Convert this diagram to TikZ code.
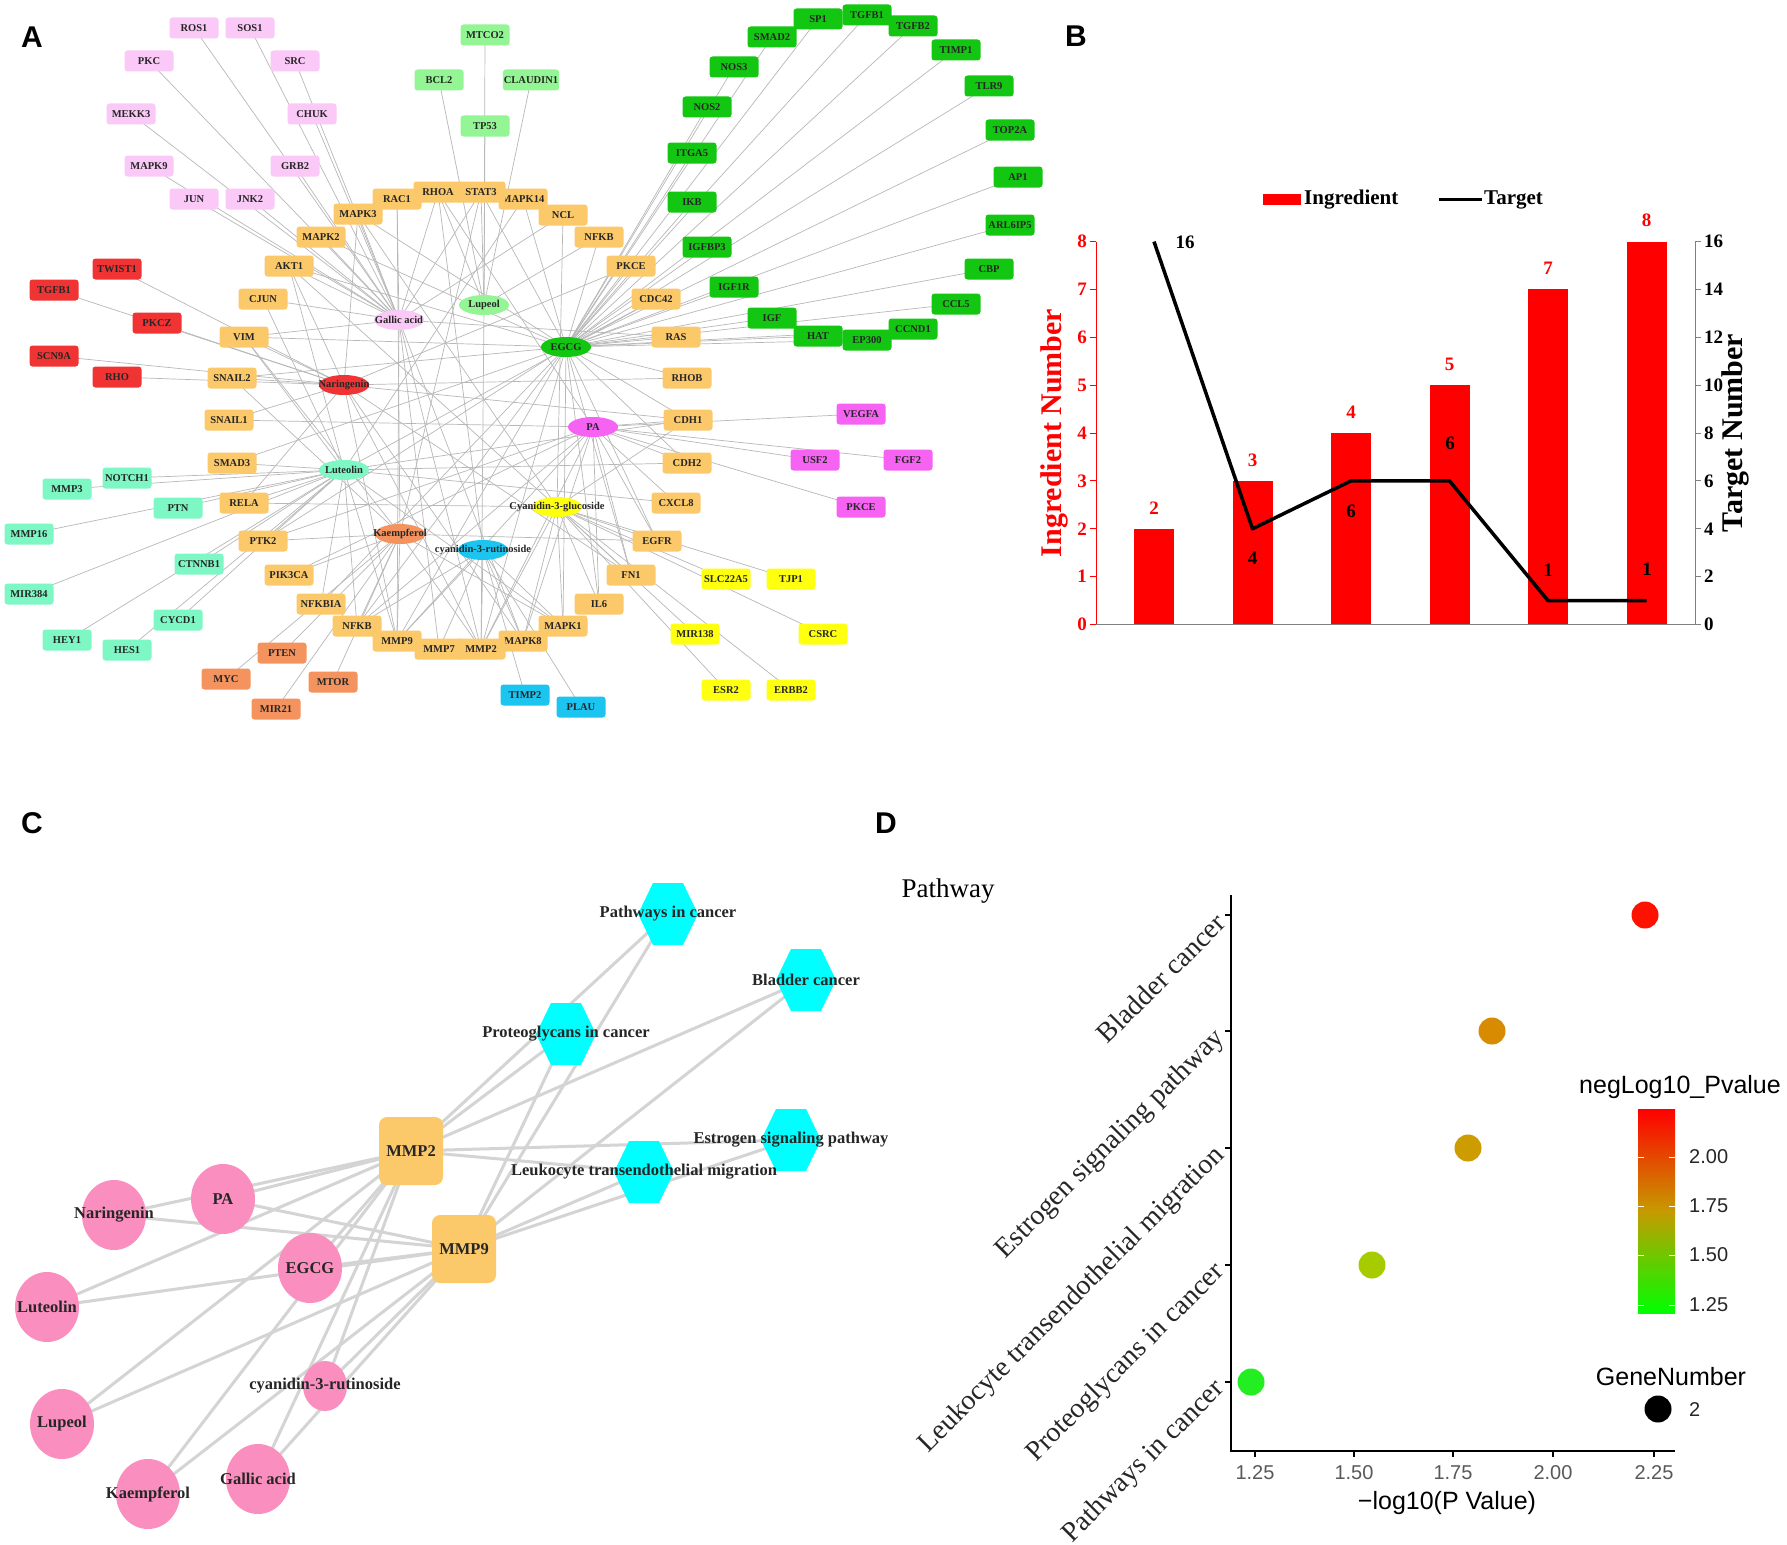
\documentclass[tikz,border=0pt]{standalone}
\usepackage{fontspec}
\setmainfont{Liberation Serif}
\newfontfamily\arialfont{Liberation Sans}
\usepackage{xcolor}
\usepackage{tikz}
\usetikzlibrary{shapes.geometric,positioning}
\pgfdeclarelayer{bg}
\pgfsetlayers{bg,main}

\definecolor{pinkc}{HTML}{FBC9F7}
\definecolor{redc}{HTML}{F03434}
\definecolor{orangec}{HTML}{FCC96A}
\definecolor{lgreenc}{HTML}{93F593}
\definecolor{greenc}{HTML}{12C612}
\definecolor{aquac}{HTML}{7DF8C4}
\definecolor{salmonc}{HTML}{F5935F}
\definecolor{bluec}{HTML}{1CC4F0}
\definecolor{magc}{HTML}{F662F2}
\definecolor{yellowc}{HTML}{FFFF10}
\definecolor{herbpink}{HTML}{FA8EBE}
\definecolor{hexcyan}{HTML}{00FFFF}
\definecolor{barred}{HTML}{FF0000}
\definecolor{cbmid}{HTML}{C69A00}
\definecolor{cbtop}{HTML}{FF0000}
\definecolor{cbbot}{HTML}{00FF00}
\definecolor{dotB}{HTML}{FF1100}
\definecolor{dotE}{HTML}{D88A00}
\definecolor{dotL}{HTML}{CC9C00}
\definecolor{dotP}{HTML}{A6CC00}
\definecolor{dotW}{HTML}{22EE22}

\newcommand{\genefnt}{\fontsize{10.5pt}{12pt}\selectfont\bfseries}
\newcommand{\panelfnt}{\arialfont\fontsize{30pt}{32pt}\selectfont\bfseries}
\newcommand{\barnumfnt}{\fontsize{19pt}{21pt}\selectfont\bfseries}
\newcommand{\legendfnt}{\fontsize{21pt}{23pt}\selectfont\bfseries}
\newcommand{\axistitlefnt}{\fontsize{30pt}{32pt}\selectfont\bfseries}
\newcommand{\herbfnt}{\fontsize{16.5pt}{18pt}\selectfont\bfseries}
\newcommand{\pathwayfnt}{\fontsize{27pt}{29pt}\selectfont}
\newcommand{\catfnt}{\fontsize{28pt}{30pt}\selectfont}
\newcommand{\dtickfnt}{\arialfont\fontsize{20pt}{22pt}\selectfont}
\newcommand{\dtitlefnt}{\arialfont\fontsize{25pt}{27pt}\selectfont}

\begin{document}
\begin{tikzpicture}[x=1pt, y=-1pt,
    gene/.style={rectangle, rounded corners=3pt, minimum width=49pt, minimum height=21pt, inner xsep=1pt, inner ysep=0pt, font=\genefnt, text=black!85},
    ingr/.style={ellipse, minimum width=50pt, minimum height=20pt, inner sep=0pt},
    ilab/.style={font=\genefnt, text=black!85},
    link/.style={draw=black!28, line width=0.7pt},
    herb/.style={ellipse, fill=herbpink, minimum width=64pt, minimum height=70pt, inner sep=0pt},
    clab/.style={font=\herbfnt, text=black!85},
    mmpbox/.style={rectangle, rounded corners=8pt, fill=orangec, minimum width=64pt, minimum height=68pt, font=\herbfnt, text=black!85},
    hexnode/.style={rectangle, minimum width=60pt, minimum height=62pt, inner sep=0pt,
        path picture={\fill[hexcyan] (path picture bounding box.west) -- ([xshift=-15pt]path picture bounding box.north)
            -- ([xshift=15pt]path picture bounding box.north) -- (path picture bounding box.east)
            -- ([xshift=15pt]path picture bounding box.south) -- ([xshift=-15pt]path picture bounding box.south) -- cycle;}},
    clink/.style={draw=black!17, line width=3pt},
    panel/.style={font=\panelfnt}
]
    \begin{pgfonlayer}{bg}
        \fill[white] (0,0) rectangle (1787,1544);
    \end{pgfonlayer}
    \useasboundingbox (0,0) rectangle (1787,1544);

    % ---------------- Panel A ----------------
    \node[panel] (labA) at (32,37) {A};

    % Ingredients
    \node[ingr, fill=redc, label={[ilab]center:Naringenin}] (nar) at (344,385) {};
    \node[ingr, fill=pinkc, label={[ilab]center:Gallic acid}] (gal) at (399,320) {};
    \node[ingr, fill=lgreenc, label={[ilab]center:Lupeol}] (lup) at (484,305) {};
    \node[ingr, fill=greenc, label={[ilab]center:EGCG}] (egc) at (566,347) {};
    \node[ingr, fill=magc, label={[ilab]center:PA}] (pa) at (593,427) {};
    \node[ingr, fill=aquac, label={[ilab]center:Luteolin}] (lut) at (344,470) {};
    \node[ingr, fill=yellowc, label={[ilab]center:Cyanidin-3-glucoside}] (cyg) at (557,507) {};
    \node[ingr, fill=salmonc, label={[ilab]center:Kaempferol}] (kae) at (400,534) {};
    \node[ingr, fill=bluec, label={[ilab]center:cyanidin-3-rutinoside}] (cyr) at (483,550) {};

    % Targets
    \foreach \n/\x/\y/\t in {ros1/194/28/ROS1, sos1/250/28/SOS1, pkc/149/61/PKC, src/295/61/SRC, mekk3/131/114/MEKK3,
        chuk/312/114/CHUK, mapk9/149/166/MAPK9, grb2/295/166/GRB2, jun/194/199/JUN, jnk2/250/199/JNK2}
        \node[gene, fill=pinkc] (\n) at (\x,\y) {\t};
    \foreach \n/\x/\y/\t in {twist1/117/269/TWIST1, tgfb1r/54/290/TGFB1, pkcz/157/323/PKCZ, scn9a/54/356/SCN9A, rho/117/377/RHO}
        \node[gene, fill=redc] (\n) at (\x,\y) {\t};
    \foreach \n/\x/\y/\t in {mtco2/485/35/MTCO2, bcl2/439/80/BCL2, claudin1/531/80/CLAUDIN1, tp53/485/126/TP53}
        \node[gene, fill=lgreenc] (\n) at (\x,\y) {\t};
    \foreach \n/\x/\y/\t in {smad2/772/37/SMAD2, sp1/818/19/SP1, tgfb1g/867/15/TGFB1, tgfb2/913/26/TGFB2, timp1/956/50/TIMP1,
        tlr9/989/86/TLR9, top2a/1010/130/TOP2A, ap1/1018/177/AP1, arl6ip5/1010/225/ARL6IP5, cbp/989/269/CBP,
        ccl5/956/304/CCL5, ccnd1/913/329/CCND1, ep300/867/340/EP300, hat/818/336/HAT, igf/772/318/IGF,
        igf1r/734/287/IGF1R, igfbp3/707/247/IGFBP3, ikb/692/202/IKB, itga5/692/153/ITGA5, nos2/707/107/NOS2, nos3/734/67/NOS3}
        \node[gene, fill=greenc] (\n) at (\x,\y) {\t};
    \foreach \n/\x/\y/\t in {mapk3/358/214/MAPK3, rac1/397/199/RAC1, rhoa/438/192/RHOA, mapk14/523/199/MAPK14, stat3/481/192/STAT3,
        ncl/563/215/NCL, nfkbu/599/237/NFKB, pkceo/631/266/PKCE, cdc42/656/299/CDC42, ras/676/337/RAS, rhob/687/378/RHOB,
        cdh1/688/420/CDH1, cdh2/687/463/CDH2, cxcl8/676/503/CXCL8, egfr/657/541/EGFR, fn1/631/575/FN1, il6/599/604/IL6,
        mapk1/563/626/MAPK1, mapk8/523/641/MAPK8, mmp2/481/649/MMP2, mmp7/439/649/MMP7, mmp9/397/641/MMP9,
        nfkbl/357/626/NFKB, nfkbia/321/604/NFKBIA, pik3ca/289/575/PIK3CA, ptk2/263/541/PTK2, rela/244/503/RELA,
        smad3/232/463/SMAD3, snail1/229/420/SNAIL1, snail2/232/378/SNAIL2, vim/244/337/VIM, cjun/263/299/CJUN,
        akt1/289/266/AKT1, mapk2/321/237/MAPK2}
        \node[gene, fill=orangec] (\n) at (\x,\y) {\t};
    \foreach \n/\x/\y/\t in {notch1/127/478/NOTCH1, mmp3/67/489/MMP3, ptn/178/508/PTN, mmp16/29/534/MMP16, ctnnb1/199/564/CTNNB1,
        mir384/29/594/MIR384, cycd1/178/620/CYCD1, hey1/67/640/HEY1, hes1/127/650/HES1}
        \node[gene, fill=aquac] (\n) at (\x,\y) {\t};
    \foreach \n/\x/\y/\t in {pten/282/653/PTEN, myc/226/679/MYC, mtor/333/682/MTOR, mir21/276/709/MIR21}
        \node[gene, fill=salmonc] (\n) at (\x,\y) {\t};
    \foreach \n/\x/\y/\t in {timp2/525/695/TIMP2, plau/581/707/PLAU}
        \node[gene, fill=bluec] (\n) at (\x,\y) {\t};
    \foreach \n/\x/\y/\t in {vegfa/861/414/VEGFA, usf2/815/460/USF2, fgf2/908/460/FGF2, pkcem/861/507/PKCE}
        \node[gene, fill=magc] (\n) at (\x,\y) {\t};
    \foreach \n/\x/\y/\t in {slc22a5/726/579/SLC22A5, tjp1/791/579/TJP1, mir138/695/634/MIR138, csrc/823/634/CSRC,
        esr2/726/690/ESR2, erbb2/791/690/ERBB2}
        \node[gene, fill=yellowc] (\n) at (\x,\y) {\t};

    % Edges
    \begin{pgfonlayer}{bg}
        \foreach \s/\l in {gal/{ros1,sos1,pkc,src,mekk3,chuk,mapk9,grb2,jun,jnk2},
            nar/{twist1,tgfb1r,pkcz,scn9a,rho}, lup/{mtco2,bcl2,claudin1,tp53},
            egc/{smad2,sp1,tgfb1g,tgfb2,timp1,tlr9,top2a,ap1,arl6ip5,cbp,ccl5,ccnd1,ep300,hat,igf,igf1r,igfbp3,ikb,itga5,nos2,nos3},
            pa/{vegfa,usf2,fgf2,pkcem}, lut/{notch1,mmp3,ptn,mmp16,ctnnb1,mir384,cycd1,hey1,hes1},
            kae/{pten,myc,mtor,mir21}, cyr/{timp2,plau}, cyg/{slc22a5,tjp1,mir138,csrc,esr2,erbb2}}
            \foreach \t in \l
                \draw[link] (\s.center) -- (\t.center);
        \foreach \t/\l in {rac1/{gal,kae}, mapk14/{lut,egc}, ncl/{gal,cyg}, nfkbu/{lup,egc}, pkceo/{egc,nar},
            cdc42/{egc,lut}, ras/{egc,gal}, rhob/{egc,nar}, cxcl8/{pa,lut}, mmp7/{cyr,gal}, nfkbia/{lut,egc},
            pik3ca/{kae,pa}, smad3/{lut,egc}, snail1/{nar,pa}, cjun/{gal,lut}, mapk2/{gal,egc},
            cdh2/{pa,lut,egc}, snail2/{nar,egc,kae}, il6/{pa,egc,cyg}, rela/{lut,nar,cyg},
            stat3/{gal,lup,egc,kae}, rhoa/{gal,lup,cyr,pa}, mapk3/{gal,nar,egc,cyg}, egfr/{pa,egc,cyg,kae},
            fn1/{pa,egc,cyg,nar}, ptk2/{lut,kae,egc,pa},
            mapk1/{cyr,cyg,egc,lut,kae}, mapk8/{cyr,cyg,pa,gal,nar}, nfkbl/{kae,lut,egc,pa,cyr},
            cdh1/{pa,nar,egc,lut,cyg}, vim/{nar,gal,egc,lut,kae}, akt1/{gal,nar,egc,lut,cyg},
            mmp9/{kae,lut,nar,cyr,egc,gal,pa}, mmp2/{cyr,kae,lup,egc,pa,gal,nar,cyg}}
            \foreach \s in \l
                \draw[link] (\t.center) -- (\s.center);
    \end{pgfonlayer}

    % ---------------- Panel B ----------------
    \node[panel] (labB) at (1076,36) {B};
    % Legend
    \fill[barred] (1263,194) rectangle (1301,205);
    \node[anchor=west, font=\legendfnt, inner sep=1pt] (legI) at (1303,199.5) {Ingredient};
    \draw[line width=3.5pt] (1439,199.5) -- (1482,199.5);
    \node[anchor=west, font=\legendfnt, inner sep=1pt] (legT) at (1483,199.5) {Target};
    % Bars
    \foreach \i/\v in {0/2,1/3,2/4,3/5,4/7,5/8} {
        \fill[barred] ({1134+98.5*\i},624.5) rectangle ({1174+98.5*\i},{624.5-47.86*\v});
        \node[font=\barnumfnt, text=barred] (bn\i) at ({1154+98.5*\i},{624.5-47.86*\v-21}) {\v};
    }
    % Axes
    \draw[barred, line width=1pt] (1096,241.6) -- (1096,624.5);
    \draw[black!50, line width=1pt] (1096,624.5) -- (1695,624.5);
    \draw[black!50, line width=1pt] (1695,241.6) -- (1695,624.5);
    \foreach \v in {0,...,8} {
        \draw[barred, line width=1pt] (1090,{624.5-47.86*\v}) -- (1096,{624.5-47.86*\v});
        \node[anchor=east, font=\barnumfnt, text=barred, inner sep=1pt] (lt\v) at (1088,{624.5-47.86*\v}) {\v};
    }
    \foreach \v in {0,2,...,16} {
        \draw[black!50, line width=1pt] (1695,{624.5-23.93*\v}) -- (1701,{624.5-23.93*\v});
        \node[anchor=west, font=\barnumfnt, inner sep=1pt] (rt\v) at (1703,{624.5-23.93*\v}) {\v};
    }
    % Target line
    \draw[line width=3.5pt, line join=round] (1154,241.6) -- (1252.5,528.8) -- (1351,480.9) -- (1449.5,480.9)
        -- (1548,600.6) -- (1646.5,600.6);
    \foreach \n/\x/\y/\t in {tl1/1185/242/16, tl2/1252.5/558/4, tl3/1351/511/6, tl4/1450/443/6, tl5/1548/570/1, tl6/1647/569/1}
        \node[font=\barnumfnt] (\n) at (\x,\y) {\t};
    \node[rotate=90, font=\axistitlefnt, text=barred] (ytl) at (1054,433) {Ingredient Number};
    \node[rotate=90, font=\axistitlefnt] (ytr) at (1735,433) {Target Number};

    % ---------------- Panel C ----------------
    \node[panel] (labC) at (32,823) {C};
    \node[herb, label={[clab]center:Naringenin}] (cnar) at (114,1215) {};
    \node[herb, label={[clab]center:PA}] (cpa) at (223,1199) {};
    \node[herb, label={[clab]center:EGCG}] (cegc) at (310,1268) {};
    \node[herb, label={[clab]center:Luteolin}] (clut) at (47,1307) {};
    \node[herb, label={[clab]center:Lupeol}] (clup) at (62,1424) {};
    \node[herb, label={[clab]center:Kaempferol}] (ckae) at (148,1494) {};
    \node[herb, label={[clab]center:Gallic acid}] (cgal) at (258,1479) {};
    \node[herb, minimum width=44pt, minimum height=50pt, label={[clab]center:cyanidin-3-rutinoside}] (ccyr) at (325,1386) {};
    \node[mmpbox] (cmmp2) at (411,1151) {MMP2};
    \node[mmpbox] (cmmp9) at (464,1249) {MMP9};
    \node[hexnode, label={[clab]center:Pathways in cancer}] (hpath) at (668,914) {};
    \node[hexnode, label={[clab]center:Bladder cancer}] (hblad) at (806,980) {};
    \node[hexnode, label={[clab]center:Proteoglycans in cancer}] (hprot) at (566,1034) {};
    \node[hexnode, label={[clab]center:Estrogen signaling pathway}] (hestr) at (791,1140) {};
    \node[hexnode, label={[clab]center:Leukocyte transendothelial migration}] (hleuk) at (644,1172) {};
    \begin{pgfonlayer}{bg}
        \foreach \m in {cmmp2,cmmp9} {
            \foreach \s in {cnar,cpa,cegc,clut,clup,ckae,cgal,ccyr}
                \draw[clink] (\m.center) -- (\s.center);
            \foreach \h in {hpath,hblad,hprot,hestr,hleuk}
                \draw[clink] (\m.center) -- (\h.center);
        }
    \end{pgfonlayer}

    % ---------------- Panel D ----------------
    \node[panel] (labD) at (886,823) {D};
    \node[font=\pathwayfnt] (ptitle) at (948,891) {Pathway};
    \draw[line width=1.3pt] (1231,895) -- (1231,1451) -- (1675,1451);
    \foreach \n/\y/\t in {c1/915/Bladder cancer, c2/1031/Estrogen signaling pathway, c3/1148/Leukocyte transendothelial migration,
        c4/1265/Proteoglycans in cancer, c5/1382/Pathways in cancer} {
        \draw[line width=1.3pt] (1225,\y) -- (1231,\y);
        \node[rotate=45, anchor=east, font=\catfnt, text=black!85, inner sep=2pt] (\n) at (1222,{\y+2}) {\t};
    }
    \foreach \n/\x/\t in {x1/1255/1.25, x2/1354/1.50, x3/1453/1.75, x4/1553/2.00, x5/1654/2.25} {
        \draw[line width=1.3pt] (\x,1451) -- (\x,1457);
        \node[font=\dtickfnt, text=black!65] (\n) at (\x,1473) {\t};
    }
    \node[font=\dtitlefnt] (xtitle) at (1447,1503) {−log10(P Value)};
    % Points
    \fill[dotB] (1645,915) circle (13.5);
    \fill[dotE] (1492,1031) circle (13.5);
    \fill[dotL] (1468,1148) circle (13.5);
    \fill[dotP] (1372,1265) circle (13.5);
    \fill[dotW] (1251,1382) circle (13.5);
    % Legend
    \node[font=\dtitlefnt] (cbtitle) at (1680,1087) {negLog10\_Pvalue};
    \shade[top color=cbtop, bottom color=cbmid] (1638,1109) rectangle (1675,1211);
    \shade[top color=cbmid, bottom color=cbbot] (1638,1211) rectangle (1675,1313);
    \foreach \n/\y/\t in {k1/1157/2.00, k2/1206/1.75, k3/1255/1.50, k4/1305/1.25} {
        \draw[white, line width=1pt] (1638,\y) -- (1644,\y);
        \draw[white, line width=1pt] (1669,\y) -- (1675,\y);
        \node[anchor=west, font=\dtickfnt, text=black!85, inner sep=1pt] (\n) at (1688,\y) {\t};
    }
    \node[font=\dtitlefnt] (gntitle) at (1671,1377) {GeneNumber};
    \fill[black] (1658,1409) circle (13.5);
    \node[anchor=west, font=\dtickfnt, text=black!85, inner sep=1pt] (gn2) at (1688,1409) {2};
\end{tikzpicture}
\end{document}
